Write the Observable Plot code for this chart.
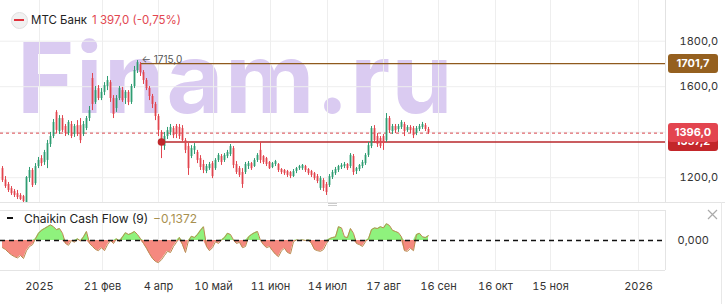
<!DOCTYPE html>
<html><head><meta charset="utf-8">
<script src="https://cdn.jsdelivr.net/npm/d3@7"></script>
<script src="https://cdn.jsdelivr.net/npm/@observablehq/plot@0.6"></script>
<style>
body{margin:0;background:#fff;font-family:Inter,"Noto Sans",sans-serif;}
#wrap{position:relative;width:725px;height:304px;overflow:hidden;background:#fff;}
.abs{position:absolute;}
.tag{position:absolute;left:668px;width:50px;height:19px;border-radius:3px;color:#fff;font-size:11px;font-weight:700;text-align:center;line-height:19px;}
</style></head>
<body>
<div id="wrap"></div>
<script>
// ---------- data ----------
const open = [1240,1190,1170,1152,1139,1130,1122,1117,1091,1197,
1232,1174,1249,1284,1267,1276,1346,1381,1487,1403,
1460,1425,1394,1434,1390,1429,1429,1390,1416,1460,
1636,1531,1592,1548,1575,1601,1618,1548,1504,1548,
1583,1548,1575,1531,1601,1671,1697,1662,1627,1592,
1557,1522,1469,1399,1337,1381,1399,1416,1425,1421,
1416,1363,1337,1293,1320,1311,1284,1258,1227,1240,
1262,1240,1276,1293,1276,1293,1302,1328,1258,1240,
1223,1223,1249,1262,1249,1276,1320,1293,1284,1267,
1245,1258,1258,1236,1232,1227,1223,1205,1227,1240,
1240,1249,1236,1227,1218,1205,1153,1188,1170,1166,
1201,1218,1232,1245,1249,1258,1249,1293,1227,1236,
1249,1262,1298,1337,1416,1381,1372,1381,1363,1460,
1403,1425,1412,1421,1434,1407,1421,1416,1394,1412,
1421,1429,1412];
const high = [1249,1205,1179,1161,1148,1144,1130,1122,1205,1245,
1240,1262,1289,1297,1320,1364,1399,1456,1495,1473,
1473,1434,1451,1447,1434,1451,1460,1447,1469,1513,
1658,1601,1605,1592,1618,1645,1627,1561,1561,1601,
1597,1583,1583,1610,1689,1715,1706,1671,1636,1601,
1566,1531,1478,1407,1399,1421,1434,1425,1434,1434,
1429,1372,1350,1341,1350,1320,1297,1276,1258,1267,
1271,1284,1306,1302,1306,1320,1346,1337,1271,1249,
1240,1267,1271,1267,1284,1306,1355,1297,1289,1271,
1267,1276,1262,1240,1236,1232,1227,1236,1245,1254,
1258,1254,1240,1232,1223,1214,1205,1196,1179,1214,
1232,1245,1254,1262,1267,1262,1306,1302,1245,1258,
1276,1306,1355,1425,1429,1394,1381,1390,1482,1469,
1434,1434,1434,1451,1443,1429,1429,1425,1425,1434,
1443,1438,1421];
const low = [1179,1153,1135,1122,1113,1104,1100,1087,1087,1179,
1157,1166,1240,1249,1254,1240,1333,1372,1394,1390,
1399,1381,1385,1372,1377,1381,1350,1381,1407,1447,
1495,1522,1539,1539,1561,1583,1531,1460,1487,1539,
1531,1522,1517,1522,1592,1658,1645,1610,1583,1539,
1504,1451,1381,1284,1320,1368,1385,1372,1372,1368,
1355,1306,1210,1284,1302,1262,1232,1218,1218,1232,
1196,1232,1267,1254,1267,1284,1293,1240,1214,1201,
1153,1214,1236,1232,1245,1267,1262,1258,1249,1236,
1240,1249,1223,1214,1210,1201,1196,1201,1218,1232,
1232,1223,1210,1201,1188,1174,1144,1139,1122,1157,
1192,1210,1223,1236,1240,1232,1240,1210,1214,1227,
1240,1254,1289,1328,1350,1333,1328,1320,1355,1394,
1390,1394,1399,1412,1381,1399,1394,1372,1385,1403,
1412,1403,1390];
const close = [1188,1161,1144,1130,1122,1113,1104,1095,1201,1232,
1166,1249,1276,1262,1311,1350,1381,1443,1408,1460,
1408,1394,1443,1381,1425,1390,1363,1434,1460,1495,
1522,1583,1548,1575,1605,1627,1548,1478,1548,1592,
1539,1575,1530,1601,1671,1706,1662,1627,1592,1557,
1522,1469,1408,1341,1381,1407,1421,1385,1390,1381,
1363,1320,1240,1328,1337,1276,1245,1232,1249,1258,
1205,1276,1298,1267,1298,1311,1337,1254,1223,1210,
1170,1258,1262,1240,1276,1298,1276,1267,1258,1240,
1262,1271,1232,1223,1218,1210,1205,1227,1240,1249,
1254,1232,1218,1210,1196,1183,1196,1153,1135,1205,
1223,1236,1249,1254,1258,1240,1298,1223,1240,1254,
1267,1298,1341,1416,1363,1346,1337,1350,1460,1407,
1425,1407,1425,1443,1403,1421,1407,1385,1416,1425,
1434,1412,1397];
const cmf = [-0.12,-0.15,-0.2,-0.24,-0.27,-0.29,-0.25,-0.3,-0.17,-0.1,
-0.07,0.03,0.12,0.17,0.2,0.23,0.26,0.23,0.18,0.2,
0.12,-0.05,-0.08,0,-0.03,0.03,-0.01,0.06,0.15,-0.05,
-0.1,-0.15,-0.17,-0.12,-0.17,-0.07,0,-0.05,0.03,-0.02,
0.06,0.13,0.1,0.12,0.15,0.1,0.03,-0.05,-0.13,-0.22,
-0.3,-0.35,-0.37,-0.32,-0.25,-0.18,-0.2,-0.1,-0.03,0.05,
-0.07,-0.2,0,0.07,0.05,0.1,0.17,0.23,-0.1,-0.17,
-0.12,-0.02,-0.05,0.01,0.05,0.12,0.1,0.01,-0.05,-0.03,
-0.12,-0.1,0.06,0.1,0.13,0.15,0,-0.07,-0.12,-0.1,
-0.17,-0.23,-0.27,-0.17,-0.13,-0.2,-0.22,-0.02,0.01,0,
0.01,0,0.01,-0.05,-0.15,-0.17,-0.18,-0.15,-0.05,0.03,
0.05,0.06,0.23,0.21,0.06,0.05,0.2,0.12,-0.05,-0.07,
-0.1,-0.02,0.03,0.18,0.21,0.2,0.23,0.21,0.28,0.25,
0.17,0.15,0.13,0.06,-0.17,-0.18,-0.13,-0.17,0.1,0.12,
0.06,0.05,0.08];
// x-axis: candle slot positions of the date labels, and the labels
const tickSlots = [12.33, 33.33, 52, 70.33, 89.33, 108.33, 127, 145.33, 164.33, 182.67, 212];
const tickLabels = ["2025","21 фев","4 апр","10 май","11 июн","14 июл","17 авг","16 сен","16 окт","15 ноя","2026"];
const priceTicks = [1800, 1600, 1400, 1200];
const priceTickLabels = [1800, 1600, 1200];
const lastPrice = 1396.0;
const stopLevel = 1357.2;
const stopStart = 53;
const resistLevel = 1701.7;
const peakValue = 1715.0;
const peakSlot = 45;
const cmfLabel = "−0,1372";

// ---------- build ----------
(function () {
const candles = open.map((o, i) => ({i, open: o, high: high[i], low: low[i], close: close[i]}));
const up = candles.filter(d => d.close >= d.open);
const dn = candles.filter(d => d.close < d.open);
const cmfData = cmf.map((v, i) => ({i, v}));
const xDomain = [-0.667, 221];
const GREEN = "#2f9d72", RED = "#e2454e";
const fmt1 = d => d3.format(".1f")(d).replace(".", ",");
const labelMap = new Map(tickSlots.map((t, k) => [t, tickLabels[k]]));

const wrap = document.getElementById("wrap");

// watermark
wrap.insertAdjacentHTML("beforeend",
 `<svg class="abs" style="left:0;top:0" width="725" height="205"><text x="17" y="113" font-family="Inter, 'Liberation Sans', sans-serif" font-weight="700" font-size="98" fill="#dacbf1" letter-spacing="1.5">Finam.ru</text></svg>`);

const pricePlot = Plot.plot({
  width: 725, height: 205,
  marginLeft: 0, marginRight: 60, marginTop: 0, marginBottom: 3,
  x: {domain: xDomain, axis: null, label: null},
  y: {domain: [1091, 1979], axis: null, label: null},
  style: {background: "transparent", fontFamily: "Inter, 'Noto Sans', sans-serif", fontSize: "11px", color: "#333"},
  marks: [
    Plot.ruleX(tickSlots, {stroke: "#eeeeee"}),
    Plot.ruleY(priceTicks, {stroke: "#eeeeee"}),
    Plot.ruleX([xDomain[1]], {stroke: "#e2e2e2"}),
    Plot.ruleY([lastPrice], {stroke: "#d8434b", strokeDasharray: "3,3", strokeWidth: 1}),
    Plot.ruleY([{y: resistLevel, x1: peakSlot + 1, x2: xDomain[1]}], {y: "y", x1: "x1", x2: "x2", stroke: "#8f5a1d", strokeWidth: 1.2}),
    Plot.ruleY([{y: stopLevel, x1: stopStart, x2: xDomain[1]}], {y: "y", x1: "x1", x2: "x2", stroke: "#b8272b", strokeWidth: 1.5}),
    Plot.ruleX(up, {x: "i", y1: "low", y2: "high", stroke: GREEN, strokeWidth: 1}),
    Plot.ruleX(dn, {x: "i", y1: "low", y2: "high", stroke: RED, strokeWidth: 1}),
    Plot.ruleX(up, {x: "i", y1: "open", y2: "close", stroke: GREEN, strokeWidth: 1.8}),
    Plot.ruleX(dn, {x: "i", y1: "open", y2: "close", stroke: RED, strokeWidth: 1.8}),
    Plot.dot([{x: stopStart, y: stopLevel}], {x: "x", y: "y", r: 3.8, fill: "#c0282b"}),
    Plot.text([{x: peakSlot + 1.3, y: peakValue}], {x: "x", y: "y", text: () => "← " + fmt1(peakValue), textAnchor: "start", fontSize: 10, fill: "#555", dy: -1}),
    Plot.axisY(priceTickLabels, {anchor: "right", label: null, tickSize: 0, tickPadding: 14, tickFormat: fmt1, fontSize: 11, fill: "#333"})
  ]
});
pricePlot.style.position = "absolute"; pricePlot.style.left = "0px"; pricePlot.style.top = "0px";
wrap.appendChild(pricePlot);

// panel border under price pane, drag handle, right widget border
wrap.insertAdjacentHTML("beforeend", `<div class="abs" style="left:0;top:202px;width:725px;height:1px;background:#e4e4e4"></div>`);
wrap.insertAdjacentHTML("beforeend", `<div class="abs" style="left:328px;top:203px;width:9px;height:1px;border-top:1px solid #ccc;border-bottom:1px solid #ccc;"></div>`);
wrap.insertAdjacentHTML("beforeend", `<div class="abs" style="left:721px;top:202px;width:1px;height:102px;background:#e8e8e8"></div>`);

// right price tags
const ys = pricePlot.scale("y");
function tag(v, bg) {
  const y = ys.apply(v);
  wrap.insertAdjacentHTML("beforeend", `<div class="tag" style="top:${y - 9.5}px;background:${bg}">${fmt1(v)}</div>`);
}
tag(resistLevel, "#95601f");
tag(stopLevel, "#c3262a");
tag(lastPrice, "#e3454f");

// header
wrap.insertAdjacentHTML("beforeend", `
<div class="abs" style="left:11px;top:12px;width:15px;height:15px;border-radius:50%;background:#f1f1f1;border:1px solid #e0e0e0;"></div>
<div class="abs" style="left:14px;top:19px;width:10px;height:2px;background:#e0303a;"></div>
<div class="abs" style="left:31px;top:13px;display:flex;gap:5px;font-size:11.5px;line-height:15px;white-space:nowrap">
  <span style="color:#222">МТС Банк</span><span style="color:#e24650">1 397,0 (-0,75%)</span></div>`);

// bottom pane
const cmfPlot = Plot.plot({
  width: 725, height: 99,
  marginLeft: 0, marginRight: 60, marginTop: 5, marginBottom: 34,
  x: {domain: xDomain, axis: null, label: null},
  y: {domain: [-0.5, 0.5], axis: null, label: null},
  style: {background: "transparent", fontFamily: "Inter, 'Noto Sans', sans-serif", fontSize: "11px", color: "#333"},
  marks: [
    Plot.ruleX(tickSlots, {stroke: "#eeeeee"}),
    Plot.ruleY([-0.5, 0.5], {stroke: "#e4e4e4"}),
    Plot.ruleX([xDomain[1]], {stroke: "#e4e4e4"}),
    Plot.areaY(cmfData, {x: "i", y1: 0, y2: d => Math.max(0, d.v), fill: "#8ff27d"}),
    Plot.areaY(cmfData, {x: "i", y1: 0, y2: d => Math.min(0, d.v), fill: "#f5897f"}),
    Plot.lineY(cmfData, {x: "i", y: "v", stroke: "#b98a4f", strokeWidth: 1}),
    Plot.ruleY([0], {stroke: "#111", strokeDasharray: "5,4", strokeWidth: 1.3}),
    Plot.axisY([0], {anchor: "right", label: null, tickSize: 0, tickPadding: 12, tickFormat: d => d3.format(".3f")(d).replace(".", ","), fontSize: 11, fill: "#333"}),
    Plot.axisX(tickSlots, {anchor: "bottom", label: null, tickSize: 0, tickPadding: 12, tickFormat: d => labelMap.get(d), fontSize: 11, fill: "#333"})
  ]
});
cmfPlot.style.position = "absolute"; cmfPlot.style.left = "0px"; cmfPlot.style.top = "205px";
wrap.appendChild(cmfPlot);

// legend + close icon
wrap.insertAdjacentHTML("beforeend", `
<div class="abs" style="left:7px;top:217px;width:6px;height:2px;background:#111"></div>
<div class="abs" style="left:24px;top:211px;font-size:12px;line-height:16px;color:#222;white-space:nowrap">Chaikin Cash Flow (9)</div>
<div class="abs" style="left:153px;top:211px;font-size:12px;line-height:16px;color:#a89050;white-space:nowrap">${cmfLabel}</div>
<svg class="abs" style="left:707px;top:209px" width="11" height="11"><path d="M1,1L10,10M10,1L1,10" stroke="#aaa" stroke-width="1.2"/></svg>`);
})();
</script>
</body></html>
